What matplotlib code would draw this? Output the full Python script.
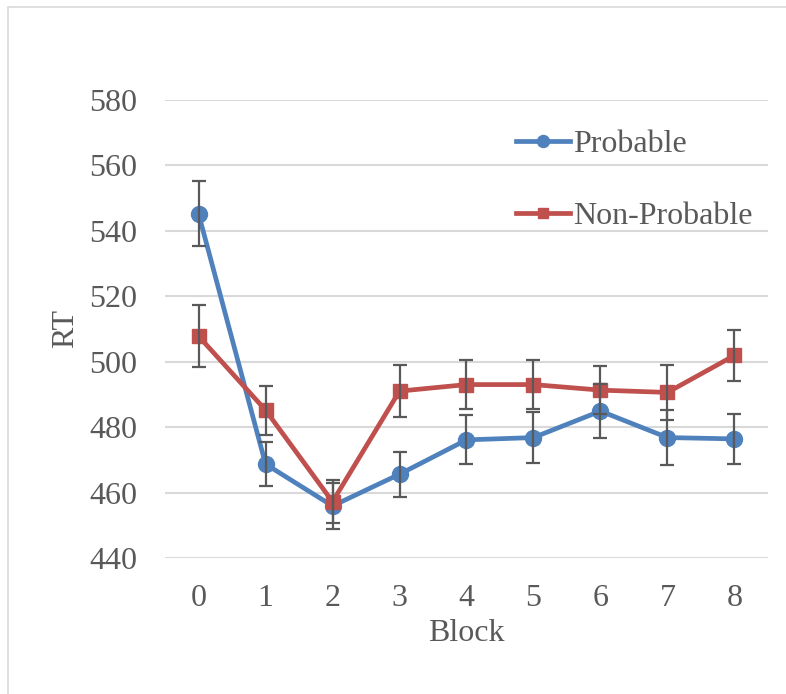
import numpy as np
import matplotlib.pyplot as plt
from matplotlib.patches import Rectangle

# ----------------------------
# data
# ----------------------------
blocks = [0, 1, 2, 3, 4, 5, 6, 7, 8]
probable = [545.2, 468.7, 455.9, 465.6, 476.1, 476.8, 484.9, 476.8, 476.4]
probable_err = [9.9, 6.8, 7.0, 6.9, 7.5, 7.7, 8.3, 8.4, 7.7]
non_probable = [507.8, 485.2, 457.2, 491.0, 493.0, 493.0, 491.3, 490.6, 501.9]
non_probable_err = [9.5, 7.5, 6.5, 7.9, 7.4, 7.6, 7.4, 8.4, 7.7]

y_ticks = [440, 460, 480, 500, 520, 540, 560, 580]

blue = "#4F81BD"
red = "#C0504D"
err_col = "#595959"
grid_col = "#D9D9D9"
text_col = "#595959"
fs = 23

plt.rcParams['font.family'] = ['Liberation Serif', 'DejaVu Serif']

fig = plt.figure(figsize=(7.86, 6.94), dpi=100)
ax = fig.add_axes([0.21, 0.196, 0.767, 0.66])

# outer chart border
fig.patches.append(Rectangle((8 / 786, -0.05), 1.2, 1 - 7 / 694 + 0.05,
                             transform=fig.transFigure, fill=False,
                             edgecolor=grid_col, linewidth=1.2))

ax.plot(blocks, probable, color=blue, lw=3.4, marker='o', ms=11.5,
        label="Probable", zorder=3)
ax.plot(blocks, non_probable, color=red, lw=3.4, marker='s', ms=10.5,
        label="Non-Probable", zorder=3)
ax.errorbar(blocks, probable, yerr=probable_err, fmt='none', ecolor=err_col,
            elinewidth=1.6, capsize=5, capthick=1.6, zorder=4)
ax.errorbar(blocks, non_probable, yerr=non_probable_err, fmt='none', ecolor=err_col,
            elinewidth=1.6, capsize=5, capthick=1.6, zorder=4)

ax.set_xlim(-0.5, 8.5)
ax.set_ylim(440, 580)
ax.set_yticks(y_ticks)
ax.set_xticks(blocks)
ax.grid(axis='y', color=grid_col, lw=1.5)
ax.set_axisbelow(True)
for s in ax.spines.values():
    s.set_visible(False)
ax.tick_params(length=0, labelsize=fs, labelcolor=text_col)
ax.tick_params(axis='x', pad=19)
ax.tick_params(axis='y', pad=20)

ax.set_ylabel("RT", fontsize=fs, color=text_col, labelpad=6.5)
ax.set_xlabel("Block", fontsize=fs, color=text_col, labelpad=4)

ax.legend(loc='upper left', bbox_to_anchor=(0.555, 0.969), frameon=False,
          borderpad=0, fontsize=fs, labelcolor=text_col, handlelength=1.7,
          handletextpad=0.1, labelspacing=1.33, markerscale=0.75)

fig.savefig("out.png", dpi=100)
